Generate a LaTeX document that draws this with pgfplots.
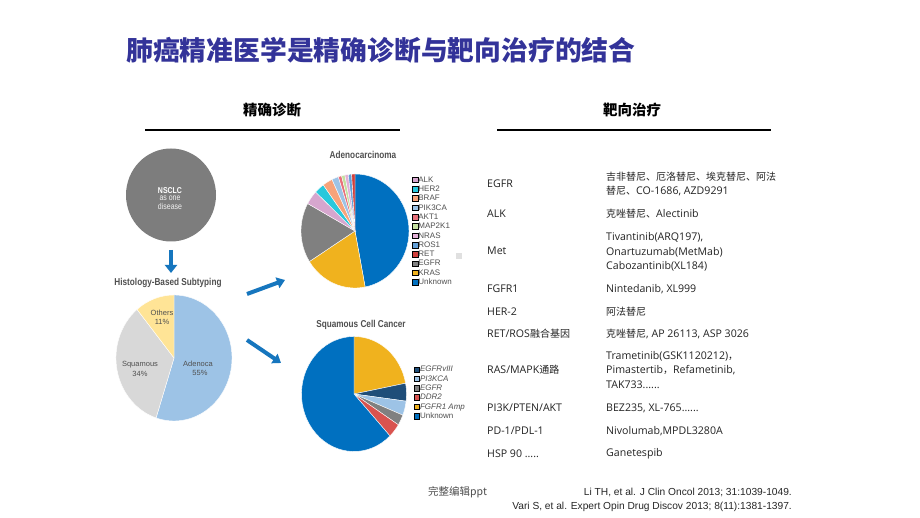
\documentclass[border=0pt]{standalone}
\usepackage{pgfplots}
\pgfplotsset{compat=1.18}
\usepackage{fontspec}
\setmainfont{Liberation Sans}
\newfontfamily\cjk{Noto Sans CJK SC}
\newfontfamily\tabfont{Open Sans}
\newfontfamily\cond[FakeStretch=0.82]{Liberation Sans}
\usetikzlibrary{arrows.meta}
\newcommand{\zh}[1]{{\cjk\fontsize{10}{10}\selectfont #1}}

\definecolor{titleblue}{RGB}{51,51,153}
\definecolor{nsgray}{RGB}{125,125,125}
\definecolor{arrowblue}{RGB}{22,118,190}
\definecolor{labgray}{RGB}{80,80,80}
\definecolor{adenoblue}{RGB}{157,195,230}
\definecolor{squamgray}{RGB}{216,216,216}
\definecolor{othersyellow}{RGB}{255,228,150}
\definecolor{unkblue}{RGB}{0,112,192}
\definecolor{krasy}{RGB}{240,178,30}
\definecolor{egfrg}{RGB}{128,128,128}
\definecolor{alkp}{RGB}{214,166,206}
\definecolor{her2c}{RGB}{40,200,220}
\definecolor{brafo}{RGB}{247,163,122}
\definecolor{pik3b}{RGB}{157,195,230}
\definecolor{akt1r}{RGB}{232,112,122}
\definecolor{mapg}{RGB}{196,224,160}
\definecolor{nrasp}{RGB}{228,176,214}
\definecolor{ros1b}{RGB}{100,160,215}
\definecolor{retr}{RGB}{208,64,60}
\definecolor{navy}{RGB}{31,78,121}
\definecolor{ddr2r}{RGB}{217,83,79}
\definecolor{tabtext}{RGB}{35,35,35}

% wedges clockwise from 12 o'clock; #1/#2 = x/y radius in pt, #3 = value/colour list (percent)
\newcommand{\pie}[3]{%
  \gdef\cum{0}%
  \foreach \v/\col in {#3}{%
    \pgfmathsetmacro{\sa}{90-3.6*\cum}%
    \pgfmathsetmacro{\ea}{90-3.6*(\cum+\v)}%
    \edef\doit{\noexpand\fill[\col, draw=white, line width=0.4pt] (axis cs:0,0) -- (axis cs:{cos(\sa)},{sin(\sa)}) arc[start angle=\sa, end angle=\ea, x radius=#1pt, y radius=#2pt] -- cycle;}%
    \doit
    \pgfmathsetmacro{\nc}{\cum+\v}\xdef\cum{\nc}%
  }%
}

\pgfplotsset{
  pieaxis/.style={hide axis, scale only axis, clip=false, anchor=center,
    legend image code/.code={\fill[##1] (0pt,-2.8pt) rectangle (5.6pt,2.8pt);},
    legend style={draw=none, fill=none, anchor=west, inner sep=0pt,
      font=\fontsize{8}{8}\selectfont, text=labgray, row sep=1.9pt,
      nodes={inner sep=0.5pt, text height=5.6pt, text depth=0.8pt}},
    legend cell align=left},
}

\begin{document}
\begin{tikzpicture}[x=1pt,y=1pt]
\fill[white] (0,0) rectangle (920,518);
\useasboundingbox (0,0) rectangle (920,518);

% title and headings
\node[anchor=west, text=titleblue, font=\cjk\bfseries\fontsize{26.8}{26.8}\selectfont, inner sep=0pt] at (126,468) {肺癌精准医学是精确诊断与靶向治疗的结合};
\node[font=\cjk\bfseries\fontsize{14.5}{14.5}\selectfont, inner sep=0pt] at (272,408) {精确诊断};
\node[font=\cjk\bfseries\fontsize{14.5}{14.5}\selectfont, inner sep=0pt] at (632,408) {靶向治疗};
\draw[line width=1.6pt] (145,388) -- (400,388);
\draw[line width=1.6pt] (497,388) -- (771,388);

% NSCLC disc and arrow
\fill[nsgray] (171,323) ellipse [x radius=45, y radius=46.5];
\node[text=white, font=\cond\bfseries\fontsize{8.5}{8.5}\selectfont] at (170,327) {NSCLC};
\node[text=white!90!gray, font=\cond\fontsize{8.5}{8.5}\selectfont] at (170,319.5) {as one};
\node[text=white!90!gray, font=\cond\fontsize{8.5}{8.5}\selectfont] at (170,312) {disease};
\draw[-{Triangle[width=12pt,length=8pt]}, line width=4.5pt, arrowblue] (171,268) -- (171,245);
\node[text=labgray, font=\cond\bfseries\fontsize{10}{10}\selectfont] at (168,235) {Histology-Based Subtyping};

% histology pie
\begin{axis}[pieaxis, x=58pt, y=63pt, xmin=-1.05, xmax=1.05, ymin=-1.05, ymax=1.05, at={(174pt,160pt)}]
\pie{58}{63}{55/adenoblue, 34/squamgray, 11/othersyellow}
\end{axis}
\node[text=labgray, font=\fontsize{7.5}{7.5}\selectfont] at (198,154) {Adenoca};
\node[text=labgray, font=\fontsize{7.5}{7.5}\selectfont] at (200,145) {55\%};
\node[text=labgray, font=\fontsize{7.5}{7.5}\selectfont] at (140,153) {Squamous};
\node[text=labgray, font=\fontsize{7.5}{7.5}\selectfont] at (140,144) {34\%};
\node[text=labgray, font=\fontsize{7.5}{7.5}\selectfont] at (162,205) {Others};
\node[text=labgray, font=\fontsize{7.5}{7.5}\selectfont] at (162,196) {11\%};

% arrows to subtype pies
\draw[-{Triangle[width=11pt,length=8pt]}, line width=4pt, arrowblue] (247,224) -- (285,238);
\draw[-{Triangle[width=11pt,length=8pt]}, line width=4pt, arrowblue] (247,178) -- (281,155);

% adenocarcinoma pie
\node[text=labgray, font=\cond\bfseries\fontsize{10}{10}\selectfont] at (363,363) {Adenocarcinoma};
\begin{axis}[pieaxis, x=54pt, y=57pt, xmin=-1.05, xmax=1.05, ymin=-1.05, ymax=1.05, at={(355pt,287pt)},
  legend style={at={(1,0.5)}}]
\pie{54}{57}{47/unkblue, 19/krasy, 17/egfrg, 4/alkp, 3/her2c, 3/brafo, 2/pik3b, 1/akt1r, 1/mapg, 1/nrasp, 1/ros1b, 1/retr}
\addlegendimage{fill=alkp}\addlegendentry{ALK}
\addlegendimage{fill=her2c}\addlegendentry{HER2}
\addlegendimage{fill=brafo}\addlegendentry{BRAF}
\addlegendimage{fill=pik3b}\addlegendentry{PIK3CA}
\addlegendimage{fill=akt1r}\addlegendentry{AKT1}
\addlegendimage{fill=mapg}\addlegendentry{MAP2K1}
\addlegendimage{fill=nrasp}\addlegendentry{NRAS}
\addlegendimage{fill=ros1b}\addlegendentry{ROS1}
\addlegendimage{fill=retr}\addlegendentry{RET}
\addlegendimage{fill=egfrg}\addlegendentry{EGFR}
\addlegendimage{fill=krasy}\addlegendentry{KRAS}
\addlegendimage{fill=unkblue}\addlegendentry{Unknown}
\end{axis}
\fill[black!12] (456,259) rectangle (462,265);

% squamous pie
\node[text=labgray, font=\cond\bfseries\fontsize{10}{10}\selectfont] at (361,193) {Squamous Cell Cancer};
\begin{axis}[pieaxis, x=52.5pt, y=57.5pt, xmin=-1.13, xmax=1.13, ymin=-1.05, ymax=1.05, at={(354pt,124pt)},
  legend style={at={(1,0.51)}}]
\pie{52.5}{57.5}{22/krasy, 5/navy, 4/pik3b, 3/egfrg, 4/ddr2r, 62/unkblue}
\addlegendimage{fill=navy}\addlegendentry{\itshape EGFRvIII}
\addlegendimage{fill=pik3b}\addlegendentry{\itshape PI3KCA}
\addlegendimage{fill=egfrg}\addlegendentry{\itshape EGFR}
\addlegendimage{fill=ddr2r}\addlegendentry{\itshape DDR2}
\addlegendimage{fill=krasy}\addlegendentry{\itshape FGFR1 Amp}
\addlegendimage{fill=unkblue}\addlegendentry{Unknown}
\end{axis}

% targeted therapy table
\begin{scope}[every node/.style={anchor=west, inner sep=0pt, text=tabtext, font=\tabfont\fontsize{10.6}{10.6}\selectfont}]
\node at (487,334) {EGFR};
\node at (606,341) {\zh{吉非替尼、厄洛替尼、埃克替尼、阿法}};
\node at (606,327) {\zh{替尼、}CO-1686, AZD9291};
\node at (487,304) {ALK};
\node at (606,304) {\zh{克唑替尼、}Alectinib};
\node at (487,267) {Met};
\node at (606,281) {Tivantinib(ARQ197),};
\node at (606,266) {Onartuzumab(MetMab)};
\node at (606,252) {Cabozantinib(XL184)};
\node at (487,229) {FGFR1};
\node at (606,229) {Nintedanib, XL999};
\node at (487,206) {HER-2};
\node at (606,206) {\zh{阿法替尼}};
\node at (487,184) {RET/ROS\zh{融合基因}};
\node at (606,184) {\zh{克唑替尼}, AP 26113, ASP 3026};
\node at (487,148) {RAS/MAPK\zh{通路}};
\node at (606,162) {Trametinib(GSK1120212)\zh{，}};
\node at (606,148) {Pimastertib\zh{，}Refametinib,};
\node at (606,133) {TAK733......};
\node at (487,110) {PI3K/PTEN/AKT};
\node at (606,110) {BEZ235, XL-765......};
\node at (487,87) {PD-1/PDL-1};
\node at (606,87) {Nivolumab,MPDL3280A};
\node at (487,64) {HSP 90 .....};
\node at (606,64) {Ganetespib};
\end{scope}

% footer
\node[anchor=west, inner sep=0pt, text=black!70, font=\cjk\fontsize{10.5}{10.5}\selectfont] at (428,26) {完整编辑ppt};
\node[anchor=east, inner sep=0pt, text=black!85, font=\fontsize{10.2}{10.2}\selectfont] at (792,26) {Li TH, et al. J Clin Oncol 2013; 31:1039-1049.};
\node[anchor=east, inner sep=0pt, text=black!85, font=\fontsize{10.2}{10.2}\selectfont] at (792,11) {Vari S, et al. Expert Opin Drug Discov 2013; 8(11):1381-1397.};
\end{tikzpicture}
\end{document}
